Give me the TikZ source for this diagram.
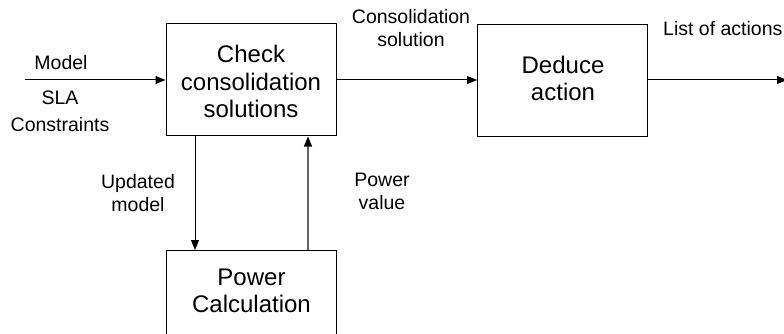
\documentclass[tikz,border=0pt]{standalone}
\usepackage{fontspec}
\setmainfont{Liberation Sans}
\usetikzlibrary{arrows.meta}

\tikzset{
  block/.style={draw=black, line width=1pt, minimum width=170pt, minimum height=112pt, inner sep=0pt},
  blocktext/.style={align=center, inner sep=0pt, font=\fontsize{24pt}{27.5pt}\selectfont},
  lbl/.style={align=center, inner sep=0pt, font=\fontsize{19.5pt}{23pt}\selectfont},
  flow/.style={line width=1pt, -{Triangle[length=10pt,width=8pt]}},
  backflow/.style={line width=1.1pt, draw=black!60, -{Triangle[length=10pt,width=8pt,fill=black,color=black]}}
}

\begin{document}
\begin{tikzpicture}[x=1pt,y=-1pt]
  \clip (0,0) rectangle (784,334);

  % processing blocks
  \node[block] (check) at (251,80) {};
  \node[blocktext] (checktxt) at (251,81.5) {Check\\consolidation\\solutions};

  \node[block] (deduce) at (562.5,80.5) {};
  \node[blocktext] (deducetxt) at (563,78.5) {Deduce\\action};

  \node[block, anchor=north] (pcalc) at (251.5,250) {};
  \node[blocktext] (pcalctxt) at (251.5,291) {Power\\Calculation};

  % free ends of the main line
  \coordinate (in) at (25,80);
  \coordinate (out) at (787,80);

  % main flow
  \draw[flow] (in) -- (check.west);
  \draw[flow] (check.east) -- (deduce.west |- check.east);
  \draw[flow] (deduce.east |- check.east) -- (out);

  % feedback loop with the power calculation
  \draw[flow] ([xshift=-56pt]check.south) -- ([xshift=-56.5pt]pcalc.north);
  \draw[backflow] ([xshift=56.5pt]pcalc.north) -- ([xshift=57pt]check.south);

  % labels
  \node[lbl] (model) at (61,63) {Model};
  \node[lbl] (sla) at (60,111.5) {SLA\\[4pt]Constraints};
  \node[lbl] (consol) at (411,28.5) {Consolidation\\solution};
  \node[lbl, anchor=west] (actions) at (663,29) {List of actions};
  \node[lbl] (updated) at (138,193) {Updated\\model};
  \node[lbl] (pvalue) at (382,191.5) {Power\\value};
\end{tikzpicture}
\end{document}
